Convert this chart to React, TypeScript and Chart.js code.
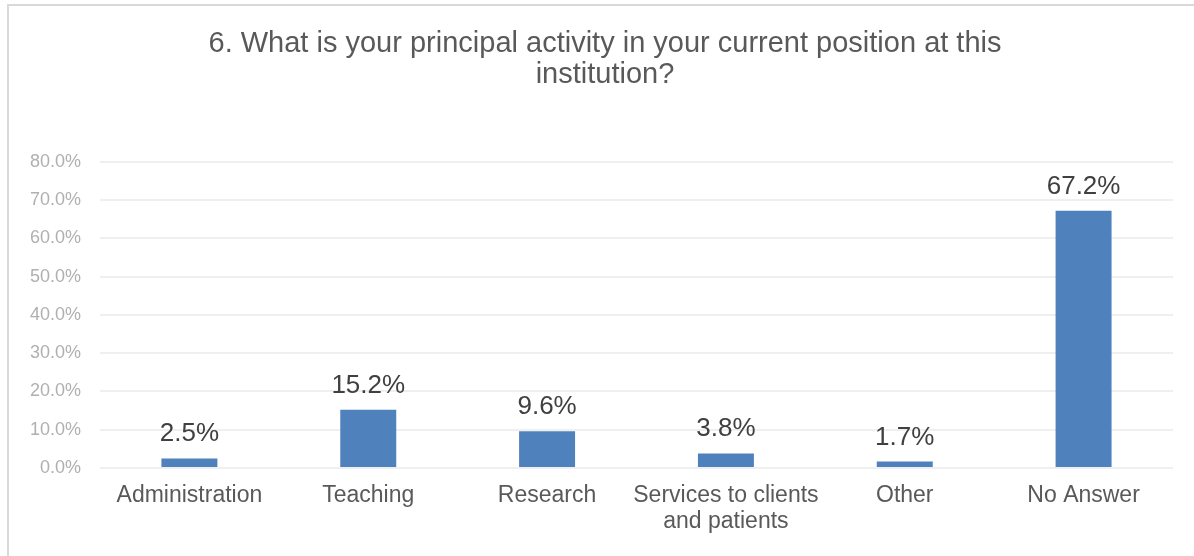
import React, { useEffect, useRef } from "react";
import { Chart, registerables } from "chart.js";

Chart.register(...registerables);

const FONT = '"Liberation Sans", Arial, Helvetica, sans-serif';

const titleLines = [
  "6. What is your principal activity in your current position at this",
  "institution?",
];
const categories: (string | string[])[] = [
  "Administration",
  "Teaching",
  "Research",
  ["Services to clients", "and patients"],
  "Other",
  "No Answer",
];
const values = [2.5, 15.2, 9.6, 3.8, 1.7, 67.2];
const yMin = 0;
const yMax = 80;
const yStep = 10;

const valueLabels = {
  id: "valueLabels",
  afterDatasetsDraw(chart: any) {
    const ctx = chart.ctx;
    const meta = chart.getDatasetMeta(0);
    ctx.save();
    ctx.font = `26px ${FONT}`;
    ctx.fillStyle = "#404040";
    ctx.textAlign = "center";
    ctx.textBaseline = "alphabetic";
    meta.data.forEach((el: any, i: number) => {
      ctx.fillText(values[i].toFixed(1) + "%", el.x, el.y - 17);
    });
    ctx.restore();
  },
};

export default function App() {
  const ref = useRef<HTMLCanvasElement | null>(null);

  useEffect(() => {
    if (!ref.current) return;
    const chart = new Chart(ref.current, {
      type: "bar",
      data: {
        labels: categories as any,
        datasets: [
          {
            data: values,
            backgroundColor: "#4f81bd",
            borderWidth: 0,
            barPercentage: 0.313,
            categoryPercentage: 1,
          },
        ],
      },
      options: {
        animation: false,
        responsive: false,
        devicePixelRatio: 1,
        layout: { padding: { left: 16, right: 16, top: 0, bottom: 6 } },
        plugins: {
          legend: { display: false },
          tooltip: { enabled: false },
          title: {
            display: true,
            text: titleLines,
            color: "#595959",
            font: { family: FONT, size: 29, weight: "normal", lineHeight: 1.08 },
            padding: { top: 22, bottom: 71 },
          },
        },
        scales: {
          x: {
            grid: { display: false, drawTicks: false },
            border: { display: false },
            ticks: {
              color: "#595959",
              font: { family: FONT, size: 23, lineHeight: 1.13 },
              padding: 15,
              maxRotation: 0,
              autoSkip: false,
            },
          },
          y: {
            min: yMin,
            max: yMax,
            grid: { color: "#efefef", lineWidth: 2, drawTicks: false },
            border: { display: false },
            ticks: {
              stepSize: yStep,
              color: "#b0b0b0",
              font: { family: FONT, size: 18 },
              padding: 19,
              callback: (v: any) => Number(v).toFixed(1) + "%",
            },
            afterFit: (scale: any) => {
              scale.width = 75;
            },
          },
          yRight: {
            type: "linear",
            position: "right",
            display: true,
            grid: { display: false, drawTicks: false },
            border: { display: false },
            ticks: { display: false },
            afterFit: (scale: any) => {
              scale.width = 12;
            },
          },
        },
      },
      plugins: [valueLabels],
    });
    return () => chart.destroy();
  }, []);

  return (
    <div
      style={{
        position: "absolute",
        left: 7,
        top: 4,
        width: 1187,
        height: 552,
        overflow: "hidden",
        borderLeft: "2px solid #d9d9d9",
        borderTop: "2px solid #d9d9d9",
        boxSizing: "border-box",
        background: "#ffffff",
      }}
    >
      <canvas ref={ref} width={1192} height={550} style={{ display: "block" }} />
    </div>
  );
}
